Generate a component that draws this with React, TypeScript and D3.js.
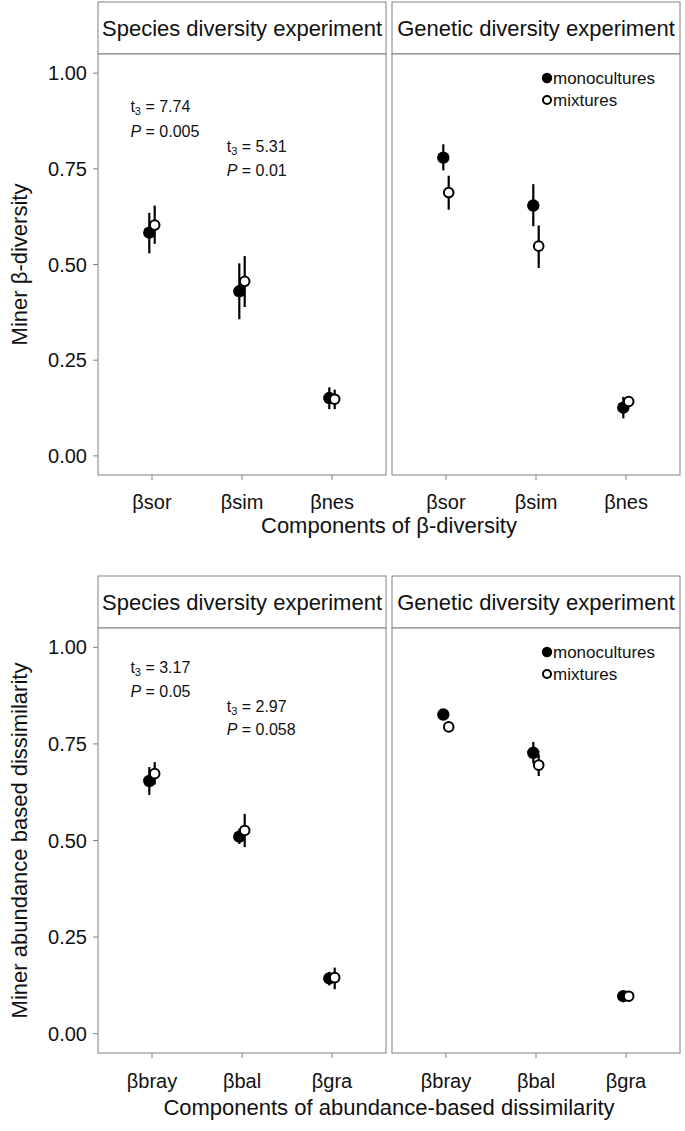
import React from "react";
import * as d3 from "d3";

// ---------- DATA ----------
const experiments = ["Species diversity experiment", "Genetic diversity experiment"];
const treatments = ["monocultures", "mixtures"];
const incidenceCats = ["βsor", "βsim", "βnes"];
const abundanceCats = ["βbray", "βbal", "βgra"];
const yTicks = [0, 0.25, 0.5, 0.75, 1.0];
const yTickLabels = ["0.00", "0.25", "0.50", "0.75", "1.00"];

// Incidence-based (top figure)
const incSpeciesMonoMean = [0.583, 0.43, 0.151];
const incSpeciesMonoLow = [0.529, 0.357, 0.122];
const incSpeciesMonoHigh = [0.635, 0.503, 0.179];
const incSpeciesMixMean = [0.603, 0.456, 0.148];
const incSpeciesMixLow = [0.554, 0.389, 0.122];
const incSpeciesMixHigh = [0.654, 0.522, 0.173];
const incGeneticMonoMean = [0.779, 0.654, 0.126];
const incGeneticMonoLow = [0.746, 0.6, 0.098];
const incGeneticMonoHigh = [0.814, 0.71, 0.154];
const incGeneticMixMean = [0.688, 0.548, 0.142];
const incGeneticMixLow = [0.643, 0.491, 0.13];
const incGeneticMixHigh = [0.732, 0.602, 0.155];

// Abundance-based (bottom figure)
const abuSpeciesMonoMean = [0.654, 0.51, 0.143];
const abuSpeciesMonoLow = [0.618, 0.491, 0.125];
const abuSpeciesMonoHigh = [0.69, 0.53, 0.16];
const abuSpeciesMixMean = [0.673, 0.526, 0.145];
const abuSpeciesMixLow = [0.645, 0.483, 0.115];
const abuSpeciesMixHigh = [0.703, 0.569, 0.171];
const abuGeneticMonoMean = [0.826, 0.727, 0.097];
const abuGeneticMonoLow = [0.815, 0.7, 0.092];
const abuGeneticMonoHigh = [0.837, 0.755, 0.102];
const abuGeneticMixMean = [0.794, 0.695, 0.097];
const abuGeneticMixLow = [0.785, 0.667, 0.092];
const abuGeneticMixHigh = [0.803, 0.722, 0.102];

// Test annotations (species panels): [t value, P value, x (category units), y of t-line, y of P-line]
const incTLabels = ["7.74", "5.31"];
const incPLabels = ["0.005", "0.01"];
const incAnnX = [0.76, 1.83];
const incAnnYt = [0.898, 0.794];
const incAnnYp = [0.833, 0.732];
const abuTLabels = ["3.17", "2.97"];
const abuPLabels = ["0.05", "0.058"];
const abuAnnX = [0.76, 1.83];
const abuAnnYt = [0.933, 0.832];
const abuAnnYp = [0.871, 0.772];

// ---------- LAYOUT ----------
const W = 685;
const H = 1131;
const FONT = "'Liberation Sans', Arial, Helvetica, sans-serif";
const GRAY = "#808080";
const panelX = [
  [98, 386],
  [392, 680],
];

type Series = { mean: number[]; low: number[]; high: number[] };

function Figure(props: {
  stripTop: number;
  panelTop: number;
  panelBottom: number;
  cats: string[];
  data: [Series, Series][]; // per experiment: [mono, mix]
  ann: { t: string[]; p: string[]; x: number[]; yt: number[]; yp: number[] };
  xTitle: string;
  yTitle: string;
  xLabelBaseline: number;
  xTitleBaseline: number;
}) {
  const { stripTop, panelTop, panelBottom, cats, data, ann, xTitle, yTitle } = props;
  const y = d3.scaleLinear().domain([-0.05, 1.05]).range([panelBottom, panelTop]);
  const dodge = 0.03;
  return (
    <g>
      {/* y axis */}
      {yTicks.map((t, i) => (
        <g key={"yt" + i}>
          <line x1={93} x2={98} y1={y(t)} y2={y(t)} stroke={GRAY} strokeWidth={1} />
          <text x={87} y={y(t)} dy="0.35em" textAnchor="end" fontSize={20} fontFamily={FONT} fill="#111">
            {yTickLabels[i]}
          </text>
        </g>
      ))}
      <text
        transform={`translate(27, ${(panelTop + panelBottom) / 2}) rotate(-90)`}
        textAnchor="middle"
        fontSize={22}
        fontFamily={FONT}
        fill="#111"
      >
        {yTitle}
      </text>
      {experiments.map((exp, e) => {
        const [x0, x1] = panelX[e];
        const xs = d3.scaleLinear().domain([0.4, 3.6]).range([x0, x1]);
        const [mono, mix] = data[e];
        const seriesList = [
          { s: mono, off: -dodge, filled: true },
          { s: mix, off: dodge, filled: false },
        ];
        return (
          <g key={exp}>
            {/* strip */}
            <rect x={x0} y={stripTop} width={x1 - x0} height={panelTop - stripTop} fill="#fff" stroke={GRAY} strokeWidth={1} />
            <text
              x={(x0 + x1) / 2}
              y={(stripTop + panelTop) / 2}
              dy="0.36em"
              textAnchor="middle"
              fontSize={22}
              fontFamily={FONT}
              fill="#111"
            >
              {exp}
            </text>
            {/* panel */}
            <rect x={x0} y={panelTop} width={x1 - x0} height={panelBottom - panelTop} fill="#fff" stroke={GRAY} strokeWidth={1} />
            {/* x ticks */}
            {cats.map((c, i) => (
              <g key={c}>
                <line x1={xs(i + 1)} x2={xs(i + 1)} y1={panelBottom} y2={panelBottom + 5} stroke={GRAY} strokeWidth={1} />
                <text x={xs(i + 1)} y={props.xLabelBaseline} textAnchor="middle" fontSize={20} fontFamily={FONT} fill="#111">
                  {c}
                </text>
              </g>
            ))}
            {/* error bars */}
            {seriesList.map((sl, k) =>
              cats.map((c, i) => (
                <line
                  key={"eb" + k + i}
                  x1={xs(i + 1 + sl.off)}
                  x2={xs(i + 1 + sl.off)}
                  y1={y(sl.s.low[i])}
                  y2={y(sl.s.high[i])}
                  stroke="#000"
                  strokeWidth={2.2}
                />
              ))
            )}
            {/* points */}
            {seriesList.map((sl, k) =>
              cats.map((c, i) =>
                sl.filled ? (
                  <circle key={"pt" + k + i} cx={xs(i + 1 + sl.off)} cy={y(sl.s.mean[i])} r={6.2} fill="#000" />
                ) : (
                  <circle
                    key={"pt" + k + i}
                    cx={xs(i + 1 + sl.off)}
                    cy={y(sl.s.mean[i])}
                    r={4.8}
                    fill="#fff"
                    stroke="#000"
                    strokeWidth={2}
                  />
                )
              )
            )}
            {/* annotations in species panel */}
            {e === 0 &&
              ann.t.map((tv, j) => (
                <g key={"ann" + j}>
                  <text x={xs(ann.x[j])} y={y(ann.yt[j])} fontSize={16} fontFamily={FONT} fill="#111">
                    t
                    <tspan dy={3} fontSize={11}>
                      3
                    </tspan>
                    <tspan dy={-3}>{" = " + tv}</tspan>
                  </text>
                  <text x={xs(ann.x[j])} y={y(ann.yp[j])} fontSize={16} fontFamily={FONT} fill="#111">
                    <tspan fontStyle="italic">P</tspan>
                    {" = " + ann.p[j]}
                  </text>
                </g>
              ))}
            {/* legend in genetic panel */}
            {e === 1 &&
              treatments.map((tr, j) => {
                const ly = panelTop + 24 + j * 22;
                const lx = x0 + 155;
                return (
                  <g key={tr}>
                    {j === 0 ? (
                      <circle cx={lx} cy={ly} r={5.2} fill="#000" />
                    ) : (
                      <circle cx={lx} cy={ly} r={4} fill="#fff" stroke="#000" strokeWidth={2} />
                    )}
                    <text x={lx + 6} y={ly} dy="0.36em" fontSize={17} fontFamily={FONT} fill="#111">
                      {tr}
                    </text>
                  </g>
                );
              })}
          </g>
        );
      })}
      <text
        x={(panelX[0][0] + panelX[1][1]) / 2}
        y={props.xTitleBaseline}
        textAnchor="middle"
        fontSize={22}
        fontFamily={FONT}
        fill="#111"
      >
        {xTitle}
      </text>
    </g>
  );
}

export default function App() {
  const incData: [Series, Series][] = [
    [
      { mean: incSpeciesMonoMean, low: incSpeciesMonoLow, high: incSpeciesMonoHigh },
      { mean: incSpeciesMixMean, low: incSpeciesMixLow, high: incSpeciesMixHigh },
    ],
    [
      { mean: incGeneticMonoMean, low: incGeneticMonoLow, high: incGeneticMonoHigh },
      { mean: incGeneticMixMean, low: incGeneticMixLow, high: incGeneticMixHigh },
    ],
  ];
  const abuData: [Series, Series][] = [
    [
      { mean: abuSpeciesMonoMean, low: abuSpeciesMonoLow, high: abuSpeciesMonoHigh },
      { mean: abuSpeciesMixMean, low: abuSpeciesMixLow, high: abuSpeciesMixHigh },
    ],
    [
      { mean: abuGeneticMonoMean, low: abuGeneticMonoLow, high: abuGeneticMonoHigh },
      { mean: abuGeneticMixMean, low: abuGeneticMixLow, high: abuGeneticMixHigh },
    ],
  ];
  return (
    <div style={{ position: "absolute", left: 0, top: 0, width: W, height: H, background: "#fff" }}>
      <svg width={W} height={H} viewBox={`0 0 ${W} ${H}`} style={{ display: "block" }}>
        <rect width={W} height={H} fill="#fff" />
        <Figure
          stripTop={2}
          panelTop={54}
          panelBottom={475}
          cats={incidenceCats}
          data={incData}
          ann={{ t: incTLabels, p: incPLabels, x: incAnnX, yt: incAnnYt, yp: incAnnYp }}
          xTitle="Components of β-diversity"
          yTitle="Miner β-diversity"
          xLabelBaseline={509}
          xTitleBaseline={533}
        />
        <Figure
          stripTop={576}
          panelTop={628}
          panelBottom={1053}
          cats={abundanceCats}
          data={abuData}
          ann={{ t: abuTLabels, p: abuPLabels, x: abuAnnX, yt: abuAnnYt, yp: abuAnnYp }}
          xTitle="Components of abundance-based dissimilarity"
          yTitle="Miner abundance based dissimilarity"
          xLabelBaseline={1088}
          xTitleBaseline={1115}
        />
      </svg>
    </div>
  );
}
